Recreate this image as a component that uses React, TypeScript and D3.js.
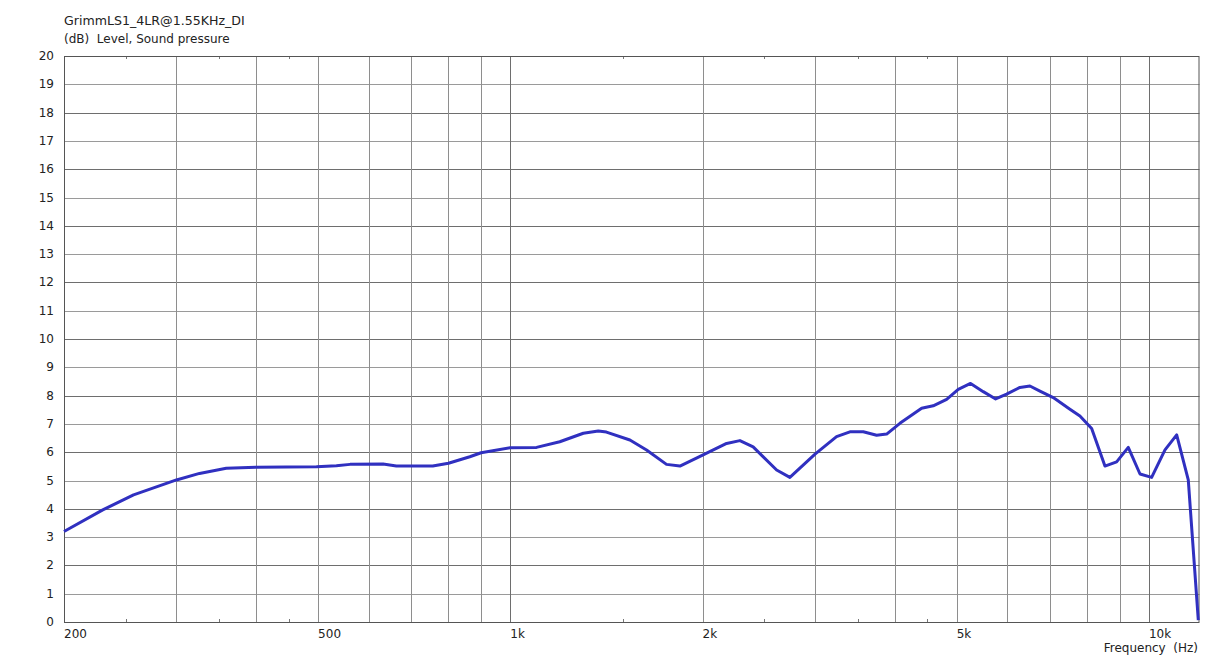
import React, { useEffect, useRef } from "react";
import * as d3 from "d3";

const freqs = [200, 230, 257, 300, 326, 359, 400, 497, 534, 561, 632, 663, 756, 800, 864, 900, 1000, 1099, 1195, 1301, 1373, 1414, 1539, 1634, 1756, 1843, 2000, 2181, 2288, 2400, 2612, 2740, 3000, 3242, 3402, 3570, 3746, 3884, 4074, 4406, 4594, 4822, 5028, 5256, 5502, 5754, 5986, 6280, 6510, 6750, 7082, 7521, 7797, 8134, 8533, 8900, 9282, 9683, 10098, 10596, 11052, 11524, 11948];
const levels = [3.2, 3.96, 4.49, 5.02, 5.25, 5.43, 5.47, 5.49, 5.52, 5.57, 5.58, 5.51, 5.51, 5.61, 5.84, 5.98, 6.16, 6.17, 6.37, 6.67, 6.75, 6.71, 6.43, 6.08, 5.57, 5.51, 5.9, 6.31, 6.41, 6.19, 5.37, 5.11, 5.93, 6.55, 6.72, 6.72, 6.6, 6.64, 7.02, 7.55, 7.64, 7.87, 8.22, 8.43, 8.14, 7.88, 8.05, 8.29, 8.34, 8.16, 7.93, 7.52, 7.28, 6.84, 5.51, 5.66, 6.17, 5.23, 5.11, 6.08, 6.61, 5.02, 0.07];

const gridFreqs = [300, 400, 500, 600, 700, 800, 900, 1000, 2000, 3000, 4000, 5000, 6000, 7000, 8000, 9000, 10000];
const minorTickFreqs = [250, 350, 450, 1500, 2500, 3500, 4500];
const xLabelFreqs = [200, 500, 1000, 2000, 5000, 10000];
const xLabelTexts = ["200", "500", "1k", "2k", "5k", "10k"];
const yTicks = d3.range(0, 21);

const title = "GrimmLS1_4LR@1.55KHz_DI";
const yTitle = "(dB)  Level, Sound pressure";
const xTitle = "Frequency  (Hz)";

export default function App() {
  const ref = useRef<SVGSVGElement>(null);
  useEffect(() => {
    const svg = d3.select(ref.current);
    svg.selectAll("*").remove();
    const L = 64, R = 1199.5, T = 56, B = 622;
    const x = d3.scaleLog().domain([200, 12000]).range([L, R]);
    const y = d3.scaleLinear().domain([0, 20]).range([B, T]);
    const font = "'DejaVu Sans', Verdana, sans-serif";
    svg.append("rect").attr("width", 1222).attr("height", 658).attr("fill", "#fff");

    svg.selectAll("line.h").data(yTicks.filter(d => d > 0 && d < 20)).enter().append("line")
      .attr("x1", L).attr("x2", R)
      .attr("y1", d => Math.round(y(d)) + 0.5).attr("y2", d => Math.round(y(d)) + 0.5)
      .attr("stroke", d => (d % 2 === 0 ? "#6e6e6e" : "#9a9a9a")).attr("stroke-width", 1);
    svg.selectAll("line.v").data(gridFreqs).enter().append("line")
      .attr("x1", d => Math.round(x(d)) + 0.5).attr("x2", d => Math.round(x(d)) + 0.5)
      .attr("y1", T).attr("y2", B)
      .attr("stroke", d => (d === 1000 || d === 10000 ? "#6e6e6e" : "#8e8e8e")).attr("stroke-width", 1);
    minorTickFreqs.forEach(f => {
      const xx = Math.round(x(f)) + 0.5;
      svg.append("line").attr("x1", xx).attr("x2", xx).attr("y1", T).attr("y2", T + 3).attr("stroke", "#777");
      svg.append("line").attr("x1", xx).attr("x2", xx).attr("y1", B - 3).attr("y2", B).attr("stroke", "#777");
    });
    svg.append("rect").attr("x", L + 0.5).attr("y", T + 0.5).attr("width", R - L - 1).attr("height", B - T)
      .attr("fill", "none").attr("stroke", "#555").attr("stroke-width", 1);

    svg.selectAll("text.y").data(yTicks).enter().append("text")
      .attr("x", 54).attr("y", d => y(d) + 4).attr("text-anchor", "end")
      .attr("font-family", font).attr("font-size", 12).attr("fill", "#222")
      .text(d => String(d));
    svg.selectAll("text.x").data(xLabelFreqs).enter().append("text")
      .attr("x", d => x(d)).attr("y", 638)
      .attr("font-family", font).attr("font-size", 12).attr("fill", "#222")
      .text((d, i) => xLabelTexts[i]);
    svg.append("text").attr("x", 1198).attr("y", 652).attr("text-anchor", "end")
      .attr("font-family", font).attr("font-size", 12).attr("fill", "#222")
      .style("white-space", "pre").text(xTitle);
    svg.append("text").attr("x", 64).attr("y", 25)
      .attr("font-family", font).attr("font-size", 12.6).attr("fill", "#222").text(title);
    svg.append("text").attr("x", 64).attr("y", 43)
      .attr("font-family", font).attr("font-size", 12).attr("fill", "#222")
      .style("white-space", "pre").text(yTitle);

    const data = freqs.map((f, i) => [f, levels[i]] as [number, number]);
    const line = d3.line<[number, number]>().x(d => x(d[0])).y(d => y(d[1])).curve(d3.curveLinear);
    svg.append("path").datum(data).attr("d", line).attr("fill", "none")
      .attr("stroke", "#3030c0").attr("stroke-width", 3).attr("stroke-linejoin", "round");
  }, []);
  return (
    <svg ref={ref} width={1222} height={658} style={{ position: "absolute", left: 0, top: 0, display: "block" }} />
  );
}
